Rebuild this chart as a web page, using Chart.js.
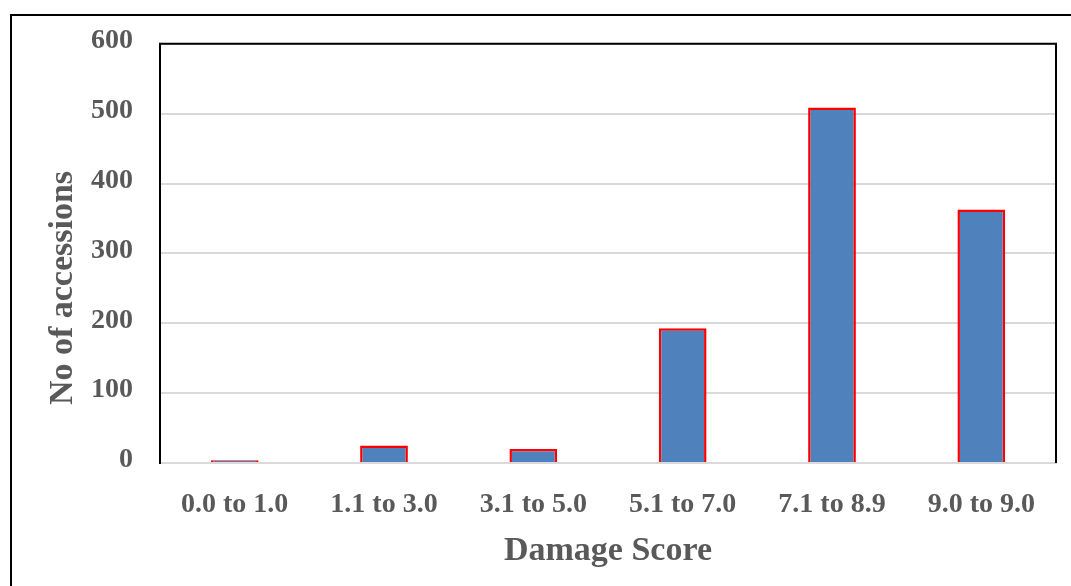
<!DOCTYPE html>
<html>
<head>
<meta charset="utf-8">
<script src="https://cdn.jsdelivr.net/npm/chart.js@4.4.0/dist/chart.umd.min.js"></script>
<style>
    html, body { margin: 0; padding: 0; background: #fff; overflow: hidden; }
    #frame { position: absolute; left: 10px; top: 14px; width: 1100px; height: 640px; border: 2px solid #000; box-sizing: border-box; }
    #wrap { position: absolute; left: 0; top: 0; width: 1071px; height: 586px; }
</style>
</head>
<body>
<div id="frame"></div>
<div id="wrap"><canvas id="damageChart"></canvas></div>
<script>
    // Data
    const scoreRanges = ['0.0 to 1.0', '1.1 to 3.0', '3.1 to 5.0', '5.1 to 7.0', '7.1 to 8.9', '9.0 to 9.0'];
    const accessionCounts = [4, 25, 20, 193, 509, 363];
    const countTicks = [0, 100, 200, 300, 400, 500, 600];

    const textGray = '#595959';
    const fontFamily = "'Liberation Serif', 'Times New Roman', serif";

    // Black top/right edges of the plot box + the rotated y title
    const plotFrame = {
        id: 'plotFrame',
        afterDraw(chart) {
            const { ctx, chartArea } = chart;
            ctx.save();
            ctx.strokeStyle = '#000';
            ctx.lineWidth = 2;
            ctx.beginPath();
            ctx.moveTo(chartArea.left - 1, chartArea.top);
            ctx.lineTo(chartArea.right, chartArea.top);
            ctx.lineTo(chartArea.right, chartArea.bottom);
            ctx.stroke();

            ctx.translate(63, 288);
            ctx.rotate(-Math.PI / 2);
            ctx.fillStyle = textGray;
            ctx.font = 'bold 34px ' + fontFamily;
            ctx.textAlign = 'center';
            ctx.textBaseline = 'middle';
            ctx.fillText('No of accessions', 0, 0);
            ctx.restore();
        }
    };

    const ctx = document.getElementById('damageChart').getContext('2d');
    new Chart(ctx, {
        type: 'bar',
        data: {
            labels: scoreRanges,
            datasets: [{
                label: 'No of accessions',
                data: accessionCounts,
                backgroundColor: '#4F81BD',
                borderColor: '#FF0000',
                borderWidth: 2.5,
                barPercentage: 0.32,
                categoryPercentage: 1
            }]
        },
        options: {
            responsive: true,
            maintainAspectRatio: false,
            animation: false,
            layout: { padding: { top: 43, right: 15, left: 0, bottom: 0 } },
            plugins: {
                legend: { display: false },
                tooltip: { enabled: false }
            },
            scales: {
                x: {
                    afterFit: (scale) => { scale.height = 123; },
                    grid: { display: false, drawTicks: false },
                    border: { display: true, color: '#D9D9D9', width: 2 },
                    ticks: {
                        color: textGray,
                        padding: 25,
                        font: { family: fontFamily, size: 28, weight: 'bold' }
                    },
                    title: {
                        display: true,
                        text: 'Damage Score',
                        color: textGray,
                        padding: { top: 0, bottom: 14 },
                        font: { family: fontFamily, size: 34, weight: 'bold' }
                    }
                },
                y: {
                    min: countTicks[0],
                    max: countTicks[countTicks.length - 1],
                    afterFit: (scale) => { scale.width = 160; },
                    grid: { color: '#D9D9D9', lineWidth: 2, drawTicks: false },
                    border: { display: true, color: '#000', width: 2 },
                    ticks: {
                        stepSize: countTicks[1] - countTicks[0],
                        color: textGray,
                        padding: 27,
                        labelOffset: -3,
                        font: { family: fontFamily, size: 28, weight: 'bold' }
                    }
                }
            }
        },
        plugins: [plotFrame]
    });
</script>
</body>
</html>
